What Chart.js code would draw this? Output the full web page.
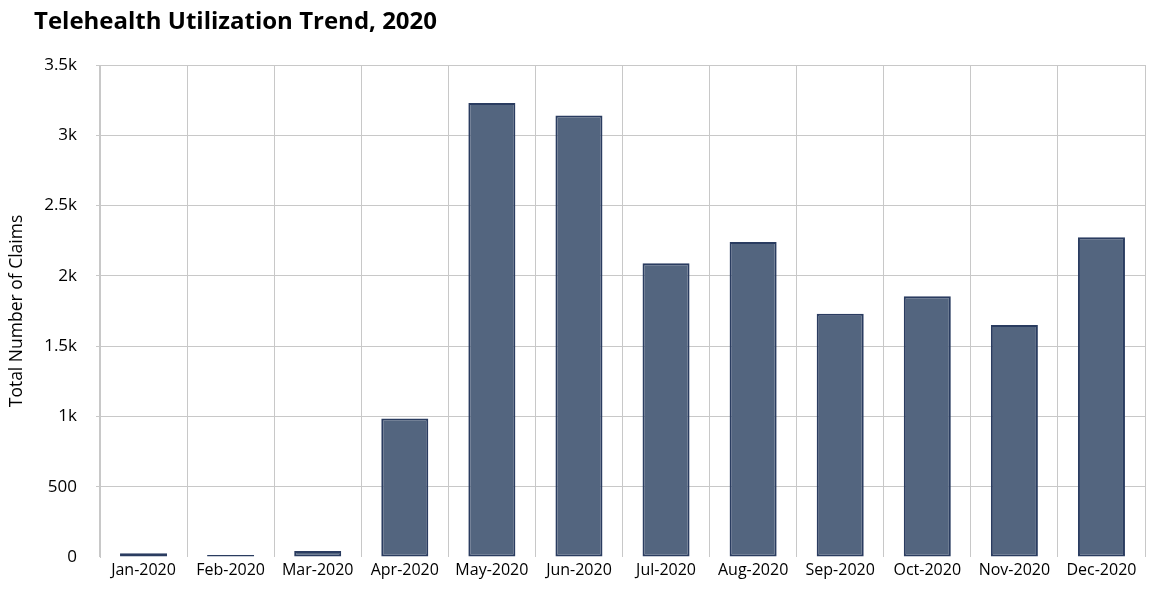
<!DOCTYPE html>
<html>
<head>
<meta charset="utf-8">
<script src="https://cdn.jsdelivr.net/npm/chart.js@4.4.0/dist/chart.umd.min.js"></script>
<style>
html,body{margin:0;padding:0;background:#fff;}
#wrap{width:1160px;height:591px;position:relative;}
</style>
</head>
<body>
<div id="wrap"><canvas id="c" width="1160" height="591"></canvas></div>
<script>
const chartTitle = 'Telehealth Utilization Trend, 2020';
const yAxisTitle = 'Total Number of Claims';
const months = ['Jan-2020','Feb-2020','Mar-2020','Apr-2020','May-2020','Jun-2020','Jul-2020','Aug-2020','Sep-2020','Oct-2020','Nov-2020','Dec-2020'];
const claims = [26, 14, 43, 985, 3230, 3140, 2090, 2240, 1730, 1855, 1650, 2275];
const yMax = 3500;
const yStep = 500;

const FONT = '"Open Sans", "Noto Sans", sans-serif';

const titlePlugin = {
  id: 'leftTitle',
  afterDraw(chart) {
    const ctx = chart.ctx;
    ctx.save();
    ctx.font = 'bold 24px ' + FONT;
    ctx.fillStyle = '#000';
    ctx.textBaseline = 'middle';
    ctx.textAlign = 'left';
    ctx.fillText(chartTitle, 34, 22);
    ctx.restore();
  }
};

new Chart(document.getElementById('c'), {
  type: 'bar',
  data: {
    labels: months,
    datasets: [{
      label: 'Claims',
      data: claims,
      backgroundColor: '#53657f',
      borderColor: '#2a3c60',
      borderWidth: 2,
      borderSkipped: false,
      barPercentage: 0.54,
      categoryPercentage: 1.0
    }]
  },
  plugins: [titlePlugin],
  options: {
    responsive: false,
    animation: false,
    layout: { padding: { top: 65, right: 15, bottom: 0, left: 0 } },
    plugins: {
      legend: { display: false },
      title: { display: false },
      tooltip: { enabled: false }
    },
    scales: {
      x: {
        offset: true,
        grid: { display: true, offset: true, color: '#c8c8c8', drawTicks: false },
        border: { display: false },
        ticks: { color: '#000', font: { family: FONT, size: 16 }, padding: 4, maxRotation: 0 },
        afterFit(s) { s.height = 34; }
      },
      y: {
        min: 0,
        max: yMax,
        grid: { color: (c) => c.tick && c.tick.value === 0 ? 'rgba(0,0,0,0)' : '#c8c8c8', tickLength: 4 },
        border: { display: true, color: '#c8c8c8' },
        ticks: {
          stepSize: yStep,
          color: '#000',
          font: { family: FONT, size: 17 },
          padding: 19,
          callback: (v) => v >= 1000 ? (v / 1000) + 'k' : String(v)
        },
        title: { display: true, text: yAxisTitle, color: '#000', font: { family: FONT, size: 17.5 }, padding: { top: 7, bottom: 0 } },
        afterFit(s) { s.width = 100; }
      }
    }
  }
});
</script>
</body>
</html>
